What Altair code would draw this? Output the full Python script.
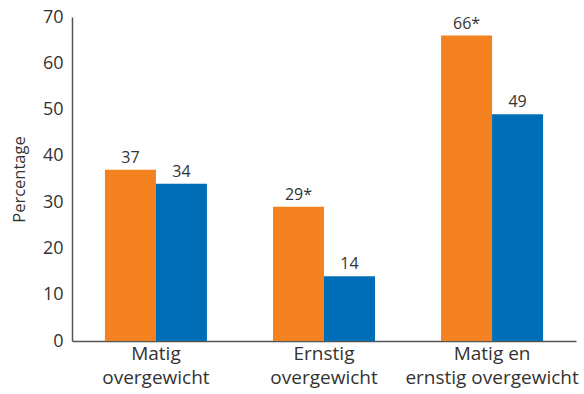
import altair as alt
import pandas as pd

categories = ["Matig|overgewicht", "Ernstig|overgewicht", "Matig en|ernstig overgewicht"]
groups = ["A", "B"]
values_a = [37, 29, 66]
values_b = [34, 14, 49]
labels_a = ["37", "29*", "66*"]
labels_b = ["34", "14", "49"]

rows = []
for i, cat in enumerate(categories):
    rows.append({"cat": cat, "grp": "A", "val": values_a[i], "lab": labels_a[i]})
    rows.append({"cat": cat, "grp": "B", "val": values_b[i], "lab": labels_b[i]})
df = pd.DataFrame(rows)

font = "Open Sans"
text_col = "#333333"

x_enc = alt.X(
    "cat:N",
    sort=categories,
    scale=alt.Scale(paddingInner=0.393, paddingOuter=0.196),
    axis=alt.Axis(
        title=None,
        labelExpr="split(datum.label, '|')",
        labelAngle=0,
        labelFont=font,
        labelFontSize=19,
        labelColor=text_col,
        labelPadding=3,
        labelLineHeight=24,
        ticks=False,
        domainColor="#555555",
        domainWidth=1.5,
        labelBaseline="top",
    ),
)
y_enc = alt.Y(
    "val:Q",
    scale=alt.Scale(domain=[0, 70]),
    axis=alt.Axis(
        title="Percentage",
        values=list(range(0, 80, 10)),
        grid=False,
        ticks=False,
        labelFont=font,
        labelFontSize=18,
        labelColor=text_col,
        labelPadding=9,
        titleFont=font,
        titleFontSize=16.5,
        titleFontWeight="normal",
        titleColor=text_col,
        titlePadding=15,
        domainColor="#555555",
        domainWidth=1.5,
    ),
)
xoff = alt.XOffset("grp:N", sort=groups)
color = alt.Color(
    "grp:N",
    sort=groups,
    scale=alt.Scale(domain=groups, range=["#F58220", "#006EB7"]),
    legend=None,
)

bars = alt.Chart(df).mark_bar().encode(x=x_enc, xOffset=xoff, y=y_enc, color=color)
labels = alt.Chart(df).mark_text(
    baseline="alphabetic", dy=-7, font=font, fontSize=16, color=text_col
).encode(x=x_enc, xOffset=xoff, y=y_enc, text="lab:N")

chart = (
    alt.layer(bars, labels)
    .properties(
        width=504,
        height=324,
        autosize=alt.AutoSizeParams(type="none"),
        padding={"left": 72, "top": 17, "right": 8, "bottom": 53},
    )
    .configure_view(stroke=None)
    .configure_scale(bandPaddingInner=0)
)

chart.save("out.html", embed_options={"renderer": "svg", "actions": False})
